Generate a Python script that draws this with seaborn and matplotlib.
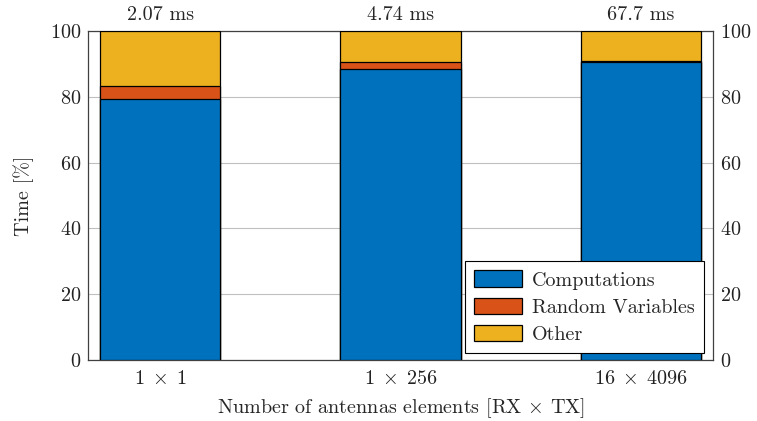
import matplotlib
matplotlib.use("Agg")
import matplotlib.pyplot as plt
import seaborn as sns
import pandas as pd
from matplotlib.patches import Patch

categories = [r"$1\;\times\;1$", r"$1\;\times\;256$", r"$16\;\times\;4096$"]
computations = [79.4, 88.4, 90.6]
random_vars = [3.8, 2.1, 0.4]
other = [16.8, 9.5, 9.0]
runtimes = ["2.07 ms", "4.74 ms", "67.7 ms"]

colors = {"Computations": "#0072BD", "Random Variables": "#D95319", "Other": "#EDB120"}

sns.set_theme(style="white")
plt.rcParams["font.family"] = ["cmr10", "DejaVu Serif"]
plt.rcParams["mathtext.fontset"] = "cm"
plt.rcParams["axes.formatter.use_mathtext"] = True

FS = 14.5

df = pd.DataFrame({
    "cat": categories,
    "Computations": computations,
    "Random Variables": random_vars,
    "Other": other,
})
df["c1"] = df["Computations"]
df["c2"] = df["c1"] + df["Random Variables"]
df["c3"] = df["c2"] + df["Other"]

fig = plt.figure(figsize=(7.57, 4.21), dpi=100)
ax = fig.add_axes([88 / 757, 61 / 421, 625 / 757, 329 / 421])

# stacked bars drawn as cumulative layers, top segment first
for col, name in [("c3", "Other"), ("c2", "Random Variables"), ("c1", "Computations")]:
    sns.barplot(data=df, x="cat", y=col, color=colors[name], saturation=1,
                width=0.5, edgecolor="black", linewidth=0.9, ax=ax, zorder=3)

ax.set_xlim(-0.3, 2.3)
ax.set_ylim(0, 100)
ax.set_yticks([0, 20, 40, 60, 80, 100])
ax.yaxis.grid(True, color="#bfbfbf", linewidth=0.8, zorder=0)
ax.set_axisbelow(True)
for s in ax.spines.values():
    s.set_color("#404040")
    s.set_linewidth(0.9)
    s.set_visible(True)
ax.tick_params(axis="both", length=0, labelsize=FS, colors="#222222")
ax.tick_params(axis="x", pad=7)
ax.tick_params(axis="y", pad=5)
ax.set_xlabel(r"Number of antennas elements [RX $\times$ TX]", fontsize=FS, labelpad=6)
ax.set_ylabel("Time [%]", fontsize=FS, labelpad=11)

ax2 = ax.twinx()
ax2.set_ylim(0, 100)
ax2.set_yticks([0, 20, 40, 60, 80, 100])
ax2.tick_params(axis="y", length=0, labelsize=FS, colors="#222222", pad=5)
for s in ax2.spines.values():
    s.set_visible(False)

for i, t in enumerate(runtimes):
    ax.text(i, 102.0, t, ha="center", va="bottom", fontsize=FS)

handles = [Patch(facecolor=colors[n], edgecolor="black", linewidth=0.9, label=n)
           for n in ["Computations", "Random Variables", "Other"]]
leg = ax2.legend(handles=handles, loc="lower right", bbox_to_anchor=(0.992, 0.01),
                 fontsize=FS, frameon=True, fancybox=False, edgecolor="black",
                 handlelength=2.4, handleheight=0.85, borderpad=0.45, labelspacing=0.4,
                 handletextpad=0.5, framealpha=1, borderaxespad=0.2)
leg.get_frame().set_linewidth(0.8)

fig.savefig("out.png", dpi=100)
